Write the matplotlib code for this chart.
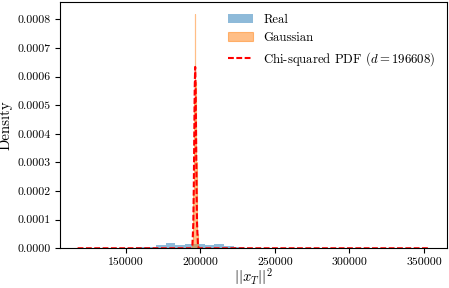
import numpy as np
import matplotlib
matplotlib.use("Agg")
import matplotlib.pyplot as plt
from matplotlib.ticker import FormatStrFormatter

plt.rcParams['font.family'] = 'serif'
plt.rcParams['font.serif'] = ['cmr10', 'DejaVu Serif']
plt.rcParams['mathtext.fontset'] = 'cm'
plt.rcParams['axes.formatter.use_mathtext'] = True
plt.rcParams['font.size'] = 8.5

d = 196608

# Real: histogram (density)
real_lo, real_hi, real_nbins = 117800, 353600, 36
real_heights = [0.3e-6, 0.3e-6, 0.5e-6, 0.8e-6, 1.2e-6, 2.0e-6,
                3.5e-6, 6.0e-6, 11.6e-6, 17.4e-6, 11.6e-6, 14.0e-6,
                16.3e-6, 12.8e-6, 14.0e-6, 8.0e-6, 4.7e-6, 2.3e-6,
                1.5e-6, 1.0e-6, 0.8e-6, 0.6e-6, 0.5e-6, 0.4e-6,
                0.4e-6, 0.3e-6, 0.3e-6, 0.3e-6, 0.2e-6, 0.2e-6,
                0.2e-6, 0.2e-6, 0.2e-6, 0.2e-6, 0.2e-6, 0.2e-6]

# Gaussian: narrow histogram around d
gauss_lo, gauss_hi, gauss_nbins = 194600, 198600, 20
gauss_heights = [1e-5, 3e-5, 6e-5, 11e-5, 20e-5, 30e-5, 42e-5, 52e-5, 60e-5, 82e-5,
                 63e-5, 58e-5, 50e-5, 40e-5, 30e-5, 19e-5, 11e-5, 5e-5, 2e-5, 1e-5]

# Chi-squared PDF line
chi_x = [117800, 193500, 194100, 194730, 195354, 195667, 195981, 196294, 196608,
         196922, 197235, 197549, 197862, 198489, 199100, 200000, 353600]
chi_y = [0, 0, 0.2e-6, 7e-6, 86e-6, 206e-6, 385e-6, 561e-6, 634e-6,
         561e-6, 385e-6, 206e-6, 86e-6, 7e-6, 0.2e-6, 0, 0]

real_edges = np.linspace(real_lo, real_hi, real_nbins + 1)
gauss_edges = np.linspace(gauss_lo, gauss_hi, gauss_nbins + 1)

fig = plt.figure(figsize=(4.49, 2.88), dpi=100)
ax = fig.add_axes([0.1336, 0.138, 0.862, 0.855])

ax.stairs(real_heights, real_edges, fill=True, color='C0', alpha=0.5, label='Real')
ax.stairs(gauss_heights, gauss_edges, fill=True, facecolor='C1', edgecolor='C1',
          alpha=0.5, lw=0.8, label='Gaussian')
ax.plot(chi_x, chi_y, color='r', lw=1.5, linestyle=(0, (2.8, 1.2)),
        label=r'Chi-squared PDF ($d=%d$)' % d)

ax.set_xlim(106000, 365400)
ax.set_ylim(0, 0.000861)
ax.set_xticks([150000, 200000, 250000, 300000, 350000])
ax.set_yticks(np.arange(0, 0.00081, 0.0001))
ax.yaxis.set_major_formatter(FormatStrFormatter('%.4f'))
ax.xaxis.set_major_formatter(FormatStrFormatter('%d'))
ax.set_xlabel(r'$||x_T||^2$', fontsize=10.5, labelpad=-1)
ax.set_ylabel('Density', fontsize=10.7, labelpad=3)
ax.legend(loc='upper right', frameon=False, fontsize=9.2)

fig.savefig('out.png', dpi=100)
